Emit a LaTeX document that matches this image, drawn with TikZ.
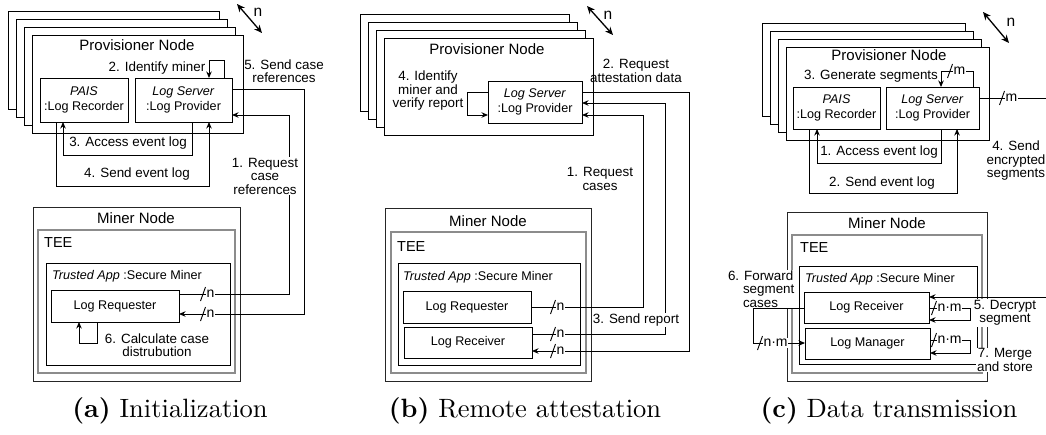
\documentclass[tikz,border=0pt]{standalone}
\usepackage{fontspec}
\setsansfont{Liberation Sans}
\newfontfamily\capfont{lmroman10-regular}[Extension=.otf,BoldFont=lmroman10-bold]
\usetikzlibrary{arrows.meta}
\newcommand\mslashmark[2]{\draw[slashline] (#1-2.5,#2+7) -- (#1+2.5,#2-7);}
\begin{document}
\begin{tikzpicture}[x=1pt,y=-1pt,
  every node/.style={font=\sffamily},
  wire/.style={line width=0.9pt},
  arr/.style={wire,-{Stealth[length=6.5pt,width=5.5pt]}},
  box/.style={draw, fill=white, line width=0.9pt, inner sep=0pt, outer sep=0pt, anchor=north west},
  comp/.style={box, align=center, font=\sffamily\fontsize{12.6}{15}\selectfont},
  teebox/.style={box, draw=black!45, line width=2.6pt, fill=none},
  minerbox/.style={box, draw=black!85},
  head/.style={font=\sffamily\fontsize{15}{17}\selectfont, inner sep=0pt},
  teelbl/.style={font=\sffamily\fontsize{14.5}{17}\selectfont, inner sep=0pt, anchor=west},
  applbl/.style={font=\sffamily\fontsize{12.6}{15}\selectfont, inner sep=0pt, anchor=west},
  lbl/.style={font=\sffamily\fontsize{13.4}{13.5}\selectfont, align=center, inner sep=0.8pt},
  wlbl/.style={lbl, fill=white},
  nlbl/.style={font=\sffamily\fontsize{15.5}{16}\selectfont, inner sep=0pt},
  mult/.style={font=\sffamily\fontsize{14}{14}\selectfont, fill=white, inner sep=0.8pt, anchor=west},
  slashline/.style={line width=0.9pt},
  subcap/.style={font=\capfont\fontsize{26.5}{30}\selectfont, anchor=base, inner sep=0pt},
  narr/.style={line width=1.3pt, {Stealth[length=8pt,width=7pt]}-{Stealth[length=8pt,width=7pt]}},
]
\useasboundingbox (0,0) rectangle (1046,434);

%================ (a) =================
\node[box, minimum width=211pt, minimum height=98pt] (pa0) at (8,11) {};
\node[box, minimum width=211pt, minimum height=98pt] (pa1) at (16,19) {};
\node[box, minimum width=211pt, minimum height=98pt] (pa2) at (24,27) {};
\node[box, minimum width=211pt, minimum height=98pt] (provA) at (32,35) {};
\node[head] (provAt) at (137,45) {Provisioner Node};
\node[comp, minimum width=88pt, minimum height=44pt] (paisA) at (40,78) {\textit{PAIS}\\:Log Recorder};
\node[comp, minimum width=97pt, minimum height=44pt] (lsA) at (135,78) {\textit{Log Server}\\:Log Provider};
\draw[narr] (237,4) -- (262,33);
\node[nlbl] (nA) at (258,12) {n};

\node[minerbox, minimum width=207pt, minimum height=174pt] (minerA) at (33,207) {};
\node[head] (minerAt) at (136,218) {Miner Node};
\node[teebox, minimum width=197pt, minimum height=143pt] (teeA) at (38,230) {};
\node[teelbl] (teeAt) at (44,243) {TEE};
\node[box, minimum width=184pt, minimum height=102pt] (appA) at (46,263) {};
\node[applbl] (appAt) at (52,276) {\textit{Trusted App} :Secure Miner};
\node[comp, minimum width=128pt, minimum height=32pt] (lrqA) at (51,290) {Log Requester};

% connectors (a)
\draw[arr] (224,0 |- lsA.north) |- (209,60) -- (209,0 |- lsA.north);
\node[lbl] (l2A) at (157,68) {2. Identify miner};
\draw[arr] (192,0 |- lsA.south) |- (63,155) -- (63,0 |- paisA.south);
\node[lbl] (l3A) at (128,143) {3. Access event log};
\draw[arr] (56,0 |- paisA.south) |- (209,186) -- (209,0 |- lsA.south);
\node[lbl] (l4A) at (137,174) {4. Send event log};
\draw[arr] (lrqA.east |- 0,294) -| (289,115) -- (lsA.east |- 0,115);
\node[wlbl] (l1A) at (265,176) {1. Request\\case\\references};
\draw[arr] (lsA.east |- 0,89) -| (304,314) -- (lrqA.east |- 0,314);
\node[lbl] (l5A) at (284,71) {5. Send case\\references};
\mslashmark{203}{294}
\node[mult] (na1) at (205.5,294) {n};
\mslashmark{203}{314}
\node[mult] (na2) at (205.5,314) {n};
\draw[arr] (97,0 |- lrqA.south) |- (79,343) -- (79,0 |- lrqA.south);
\node[lbl] (l6A) at (157,345) {6. Calculate case\\distrubution};
\node[subcap] (capA) at (170,417) {\textbf{(a)} Initialization};

%================ (b) =================
\node[box, minimum width=209pt, minimum height=97pt] (pb0) at (360,14) {};
\node[box, minimum width=209pt, minimum height=97pt] (pb1) at (368,22) {};
\node[box, minimum width=209pt, minimum height=97pt] (pb2) at (376,30) {};
\node[box, minimum width=209pt, minimum height=97pt] (provB) at (384,38) {};
\node[head] (provBt) at (487,49) {Provisioner Node};
\node[comp, minimum width=94pt, minimum height=42pt] (lsB) at (488,81) {\textit{Log Server}\\:Log Provider};
\draw[narr] (587,6) -- (613,35);
\node[nlbl] (nB) at (608,15) {n};

\node[minerbox, minimum width=206pt, minimum height=173pt] (minerB) at (385,208) {};
\node[head] (minerBt) at (488,221) {Miner Node};
\node[teebox, minimum width=195pt, minimum height=141pt] (teeB) at (391,232) {};
\node[teelbl] (teeBt) at (397,247) {TEE};
\node[box, minimum width=182pt, minimum height=102pt] (appB) at (398,263) {};
\node[applbl] (appBt) at (403,277) {\textit{Trusted App} :Secure Miner};
\node[comp, minimum width=128pt, minimum height=32pt] (lrqB) at (403,291) {Log Requester};
\node[comp, minimum width=128pt, minimum height=31pt] (lrcB) at (404,327) {Log Receiver};

% connectors (b)
\draw[arr] (lsB.west |- 0,92) -| (467,115) -- (lsB.west |- 0,115);
\node[lbl] (l4B) at (428,91) {4. Identify\\miner and\\verify report};
\draw[arr] (lrqB.east |- 0,307) -| (643,115) -- (lsB.east |- 0,115);
\node[wlbl] (l1B) at (600,179) {1. Request\\cases};
\draw[arr] (lsB.east |- 0,92) -| (689,351) -- (lrcB.east |- 0,351);
\node[lbl] (l2B) at (636,71) {2. Request\\attestation data};
\draw[arr] (lrcB.east |- 0,334) -| (665,103) -- (lsB.east |- 0,103);
\node[wlbl] (l3B) at (636,320) {3. Send report};
\mslashmark{553}{307}
\node[mult] (nb1) at (555.5,307) {n};
\mslashmark{553}{334}
\node[mult] (nb2) at (555.5,334) {n};
\mslashmark{553}{351}
\node[mult] (nb3) at (555.5,351) {n};
\node[subcap] (capB) at (525,417) {\textbf{(b)} Remote attestation};

%================ (c) =================
\node[box, minimum width=203pt, minimum height=93pt] (pc0) at (762,23) {};
\node[box, minimum width=203pt, minimum height=93pt] (pc1) at (770,31) {};
\node[box, minimum width=203pt, minimum height=93pt] (pc2) at (778,39) {};
\node[box, minimum width=203pt, minimum height=93pt] (provC) at (786,47) {};
\node[head] (provCt) at (889,55) {Provisioner Node};
\node[comp, minimum width=87pt, minimum height=42pt] (paisC) at (793,87) {\textit{PAIS}\\:Log Recorder};
\node[comp, minimum width=93pt, minimum height=42pt] (lsC) at (886,87) {\textit{Log Server}\\:Log Provider};
\draw[narr] (983,12) -- (1009,43);
\node[nlbl] (nC) at (1011,22) {n};

\node[minerbox, minimum width=200pt, minimum height=169pt] (minerC) at (787,212) {};
\node[head] (minerCt) at (887,223) {Miner Node};
\node[teebox, minimum width=190pt, minimum height=138pt] (teeC) at (792,235) {};
\node[teelbl] (teeCt) at (800,248) {TEE};
\node[box, minimum width=178pt, minimum height=98pt] (appC) at (799,266) {};
\node[applbl] (appCt) at (805,279) {\textit{Trusted App} :Secure Miner};
\node[comp, minimum width=125pt, minimum height=31pt] (lrcC) at (804,292) {Log Receiver};
\node[comp, minimum width=125pt, minimum height=31pt] (lmC) at (805,328) {Log Manager};

% labels (c) drawn before connectors
\node[wlbl] (l5C) at (1005,313) {5. Decrypt\\segment};
\node[wlbl] (l7C) at (1005,360) {7. Merge\\and store};
\node[wlbl, align=left, anchor=west] (l6C) at (727,289) {6. Forward\\\hspace*{15pt}segment\\\hspace*{15pt}cases};

% connectors (c)
\draw[arr] (973,0 |- lsC.north) |- (941,71) -- (941,0 |- lsC.north);
\node[lbl] (l3C) at (871,76) {3. Generate segments};
\mslashmark{950}{71}
\node[mult] (mc1) at (952.5,71) {m};
\draw[wire] (lsC.east |- 0,98) -- (1046,98);
\mslashmark{1002}{98}
\node[mult] (mc2) at (1004.5,98) {m};
\node[lbl] (l4C) at (1016,161) {4. Send\\encrypted\\segments};
\draw[arr] (941,0 |- lsC.south) |- (817,163) -- (817,0 |- paisC.south);
\node[lbl] (l1C) at (879,152) {1. Access event log};
\draw[arr] (809,0 |- paisC.south) |- (957,193) -- (957,0 |- lsC.south);
\node[lbl] (l2C) at (882,183) {2. Send event log};

\draw[arr] (1046,297) -- (lrcC.east |- 0,297);
\draw[arr] (lrcC.east |- 0,308) -| (970,320) -- (lrcC.east |- 0,320);
\mslashmark{934}{308}
\node[mult] (mc3) at (936.5,308) {n·m};
\draw[arr] (lmC.east |- 0,340) -| (970,353) -- (lmC.east |- 0,353);
\mslashmark{934}{340}
\node[mult] (mc4) at (936.5,340) {n·m};
\draw[arr] (lrcC.west |- 0,308) -| (753,343) -- (lmC.west |- 0,343);
\mslashmark{760}{343}
\node[mult] (mc5) at (762.5,343) {n·m};
\node[subcap] (capC) at (889,417) {\textbf{(c)} Data transmission};
\end{tikzpicture}
\end{document}
